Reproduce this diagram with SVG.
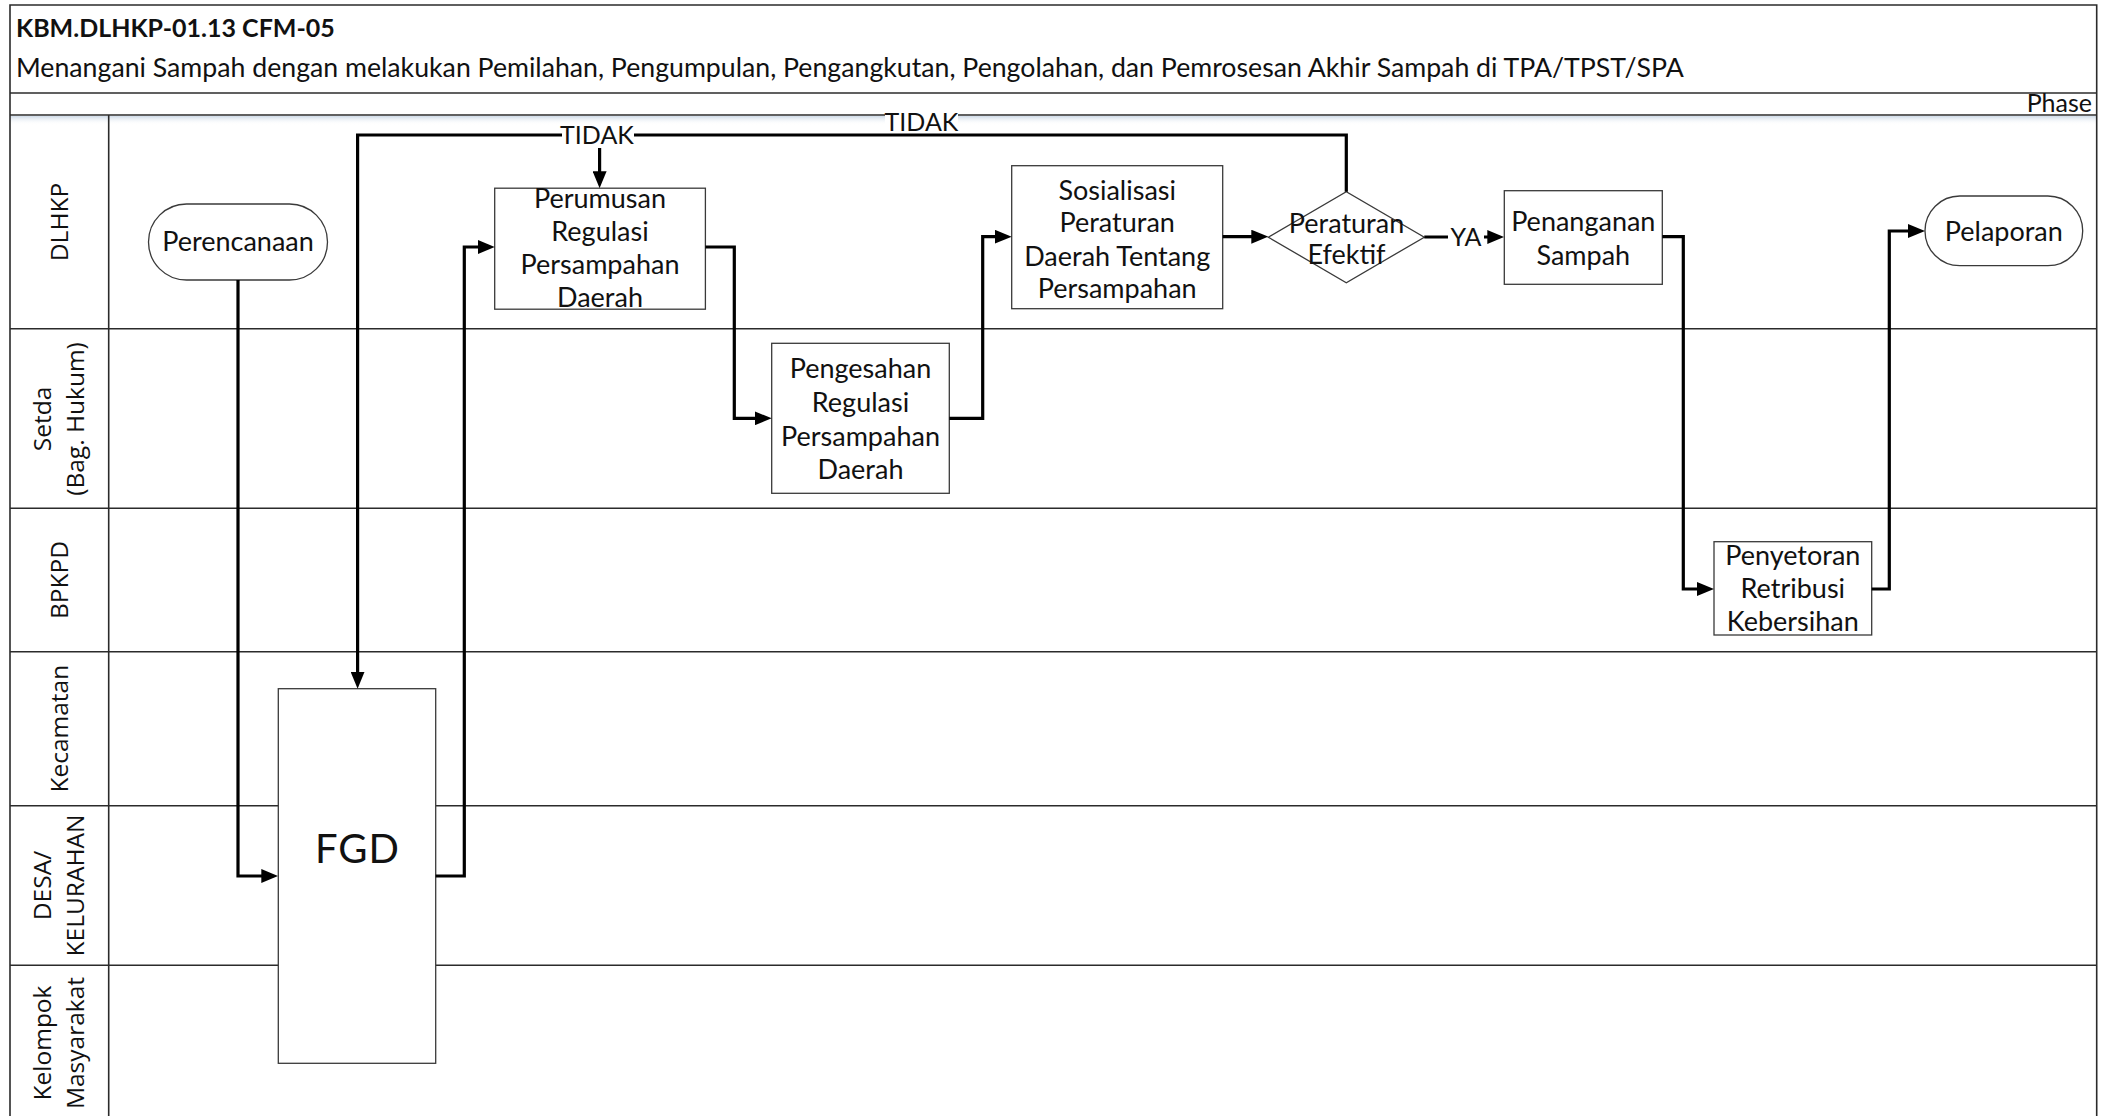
<svg xmlns="http://www.w3.org/2000/svg" width="2108" height="1116" viewBox="0 0 2108 1116">
  <style>
    .frame { fill: none; stroke: #2b2b2b; stroke-width: 1.6; }
    .lane { stroke: #2b2b2b; stroke-width: 1.6; fill: none; }
    .box { fill: #ffffff; stroke: #3a3a3a; stroke-width: 1.3; }
    .txt { font-family: Lato, "Liberation Sans", sans-serif; font-size: 27px; fill: #111; text-anchor: middle; }
    .tl { font-family: Lato, "Liberation Sans", sans-serif; font-size: 25px; fill: #111; text-anchor: middle; }
    .lbl { font-family: "Open Sans", "Liberation Sans", sans-serif; font-size: 24.5px; fill: #111; text-anchor: middle; }
    .conn { fill: none; stroke: #000; stroke-width: 3.2; stroke-linejoin: miter; }
    .arr { marker-end: url(#arrow); }
    .tag { fill: #ffffff; }
  </style>
  <defs>
    <marker id="arrow" viewBox="0 0 17 14" refX="7" refY="7" markerWidth="17" markerHeight="14" markerUnits="userSpaceOnUse" orient="auto">
      <path d="M0,0 L17,7 L0,14 z" fill="#000"/>
    </marker>
    <linearGradient id="shade" x1="0" y1="0" x2="0" y2="1">
      <stop offset="0" stop-color="#cfdbe8"/>
      <stop offset="1" stop-color="#ffffff" stop-opacity="0"/>
    </linearGradient>
  </defs>

  <rect width="2108" height="1116" fill="#ffffff"/>

  <!-- header: title, subtitle, phase row -->
  <g id="header">
    <rect x="10" y="116" width="2086" height="9" fill="url(#shade)"/>
    <path class="frame" d="M10,1116 V5 H2096.7 V1116"/>
    <line class="lane" x1="10" y1="93" x2="2096.7" y2="93"/>
    <line class="lane" x1="10" y1="115" x2="2096.7" y2="115" stroke-width="2"/>
    <text x="16" y="37" font-family="Lato, 'Liberation Sans', sans-serif" font-size="25" font-weight="bold" fill="#111">KBM.DLHKP-01.13 CFM-05</text>
    <text x="16" y="77" font-family="Lato, 'Liberation Sans', sans-serif" font-size="26.7" fill="#111">Menangani Sampah dengan melakukan Pemilahan, Pengumpulan, Pengangkutan, Pengolahan, dan Pemrosesan Akhir Sampah di TPA/TPST/SPA</text>
    <text x="2092" y="112" font-family="Lato, 'Liberation Sans', sans-serif" font-size="25" fill="#111" text-anchor="end">Phase</text>
  </g>

  <!-- swimlanes -->
  <g id="lanes">
    <line class="lane" x1="108.7" y1="115" x2="108.7" y2="1116"/>
    <line class="lane" x1="10" y1="328.7" x2="2096.7" y2="328.7"/>
    <line class="lane" x1="10" y1="508.3" x2="2096.7" y2="508.3"/>
    <line class="lane" x1="10" y1="651.7" x2="2096.7" y2="651.7"/>
    <line class="lane" x1="10" y1="805.7" x2="2096.7" y2="805.7"/>
    <line class="lane" x1="10" y1="965.3" x2="2096.7" y2="965.3"/>
    <g id="lane-dlhkp"><text class="lbl" transform="translate(68,222) rotate(-90)">DLHKP</text></g>
    <g id="lane-setda"><text class="lbl" transform="translate(0,419) rotate(-90)"><tspan x="0" y="51">Setda</tspan><tspan x="0" y="84">(Bag. Hukum)</tspan></text></g>
    <g id="lane-bpkpd"><text class="lbl" transform="translate(68,580) rotate(-90)">BPKPD</text></g>
    <g id="lane-kecamatan"><text class="lbl" transform="translate(68,728.7) rotate(-90)">Kecamatan</text></g>
    <g id="lane-desa"><text class="lbl" transform="translate(0,885.5) rotate(-90)"><tspan x="0" y="51">DESA/</tspan><tspan x="0" y="84">KELURAHAN</tspan></text></g>
    <g id="lane-kelompok"><text class="lbl" transform="translate(0,1043) rotate(-90)"><tspan x="0" y="51">Kelompok</tspan><tspan x="0" y="84">Masyarakat</tspan></text></g>
  </g>

  <!-- process nodes -->
  <g id="n-perencanaan">
    <rect class="box" x="148.5" y="204" width="179" height="76" rx="38" ry="38"/>
    <text class="txt" x="238" y="251">Perencanaan</text>
  </g>
  <g id="n-fgd">
    <rect class="box" x="278.3" y="688.7" width="157.4" height="374.6"/>
    <text class="txt" x="357.5" y="863" style="font-size:40px" letter-spacing="1">FGD</text>
  </g>
  <g id="n-perumusan">
    <rect class="box" x="494.7" y="188.2" width="210.7" height="121"/>
    <text class="txt"><tspan x="600" y="208">Perumusan</tspan><tspan x="600" y="241">Regulasi</tspan><tspan x="600" y="274">Persampahan</tspan><tspan x="600" y="307">Daerah</tspan></text>
  </g>
  <g id="n-pengesahan">
    <rect class="box" x="771.7" y="343.3" width="177.6" height="150"/>
    <text class="txt"><tspan x="860.5" y="378">Pengesahan</tspan><tspan x="860.5" y="412">Regulasi</tspan><tspan x="860.5" y="445.5">Persampahan</tspan><tspan x="860.5" y="479">Daerah</tspan></text>
  </g>
  <g id="n-sosialisasi">
    <rect class="box" x="1011.7" y="165.7" width="211" height="143"/>
    <text class="txt"><tspan x="1117.2" y="200">Sosialisasi</tspan><tspan x="1117.2" y="232">Peraturan</tspan><tspan x="1117.2" y="266">Daerah Tentang</tspan><tspan x="1117.2" y="298">Persampahan</tspan></text>
  </g>
  <g id="n-keputusan">
    <path class="box" d="M1268.3,237.2 L1346.3,191.7 L1424.3,237.2 L1346.3,282.7 Z"/>
    <text class="txt"><tspan x="1346.5" y="233">Peraturan</tspan><tspan x="1346.5" y="264">Efektif</tspan></text>
  </g>
  <g id="n-penanganan">
    <rect class="box" x="1504.3" y="190.7" width="158" height="93.6"/>
    <text class="txt"><tspan x="1583.3" y="231">Penanganan</tspan><tspan x="1583.3" y="265">Sampah</tspan></text>
  </g>
  <g id="n-penyetoran">
    <rect class="box" x="1714" y="541.7" width="157.7" height="93.3"/>
    <text class="txt"><tspan x="1792.8" y="565">Penyetoran</tspan><tspan x="1792.8" y="597.5">Retribusi</tspan><tspan x="1792.8" y="631">Kebersihan</tspan></text>
  </g>
  <g id="n-pelaporan">
    <rect class="box" x="1925" y="196" width="157.7" height="69.7" rx="34.8" ry="34.8"/>
    <text class="txt" x="2003.8" y="241">Pelaporan</text>
  </g>

  <!-- connectors -->
  <g id="connectors">
    <path class="conn arr" d="M238,280 V876 H268.3"/>
    <path class="conn arr" d="M435.7,876 H464.3 V247 H484.7"/>
    <path class="conn arr" d="M705.4,247 H734.3 V418.3 H761.7"/>
    <path class="conn arr" d="M949.3,418.3 H982.7 V236.7 H1001.7"/>
    <path class="conn arr" d="M1222.7,236.7 H1258.3"/>
    <path class="conn arr" d="M1346.3,191.7 V135 H357.6 V678.7"/>
    <path class="conn arr" d="M599.6,135 V178.2"/>
    <path class="conn arr" d="M1424.3,237 H1494.3"/>
    <path class="conn arr" d="M1662.3,236.7 H1683.3 V589 H1704"/>
    <path class="conn arr" d="M1871.7,589 H1889.3 V231 H1915"/>
    <!-- connector labels -->
    <rect class="tag" x="562" y="124" width="72" height="24"/>
    <text class="tl" x="597" y="144">TIDAK</text>
    <rect class="tag" x="885" y="114" width="73" height="19"/>
    <text class="tl" x="921.5" y="131">TIDAK</text>
    <rect class="tag" x="1448" y="226" width="36" height="22"/>
    <text class="tl" x="1466" y="246">YA</text>
  </g>
</svg>
